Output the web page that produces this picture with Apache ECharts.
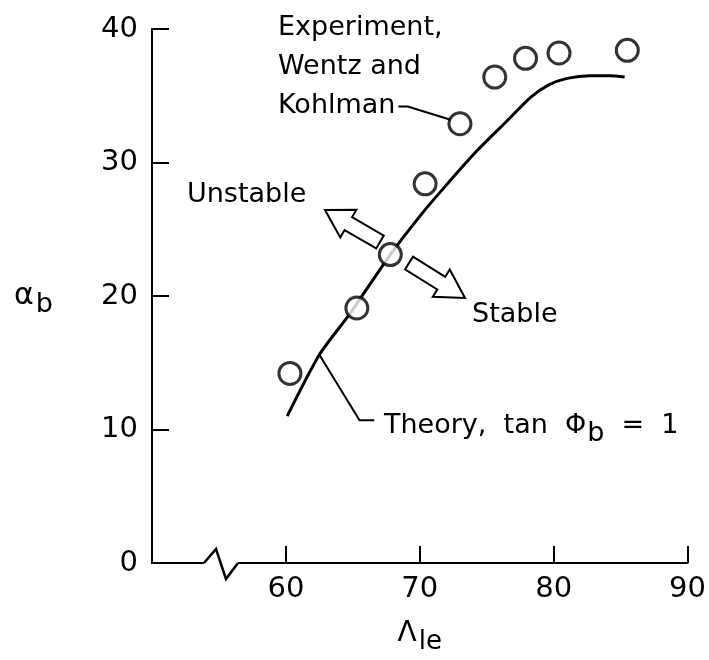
<!DOCTYPE html>
<html>
<head>
<meta charset="utf-8">
<title>Vortex breakdown angle vs sweep</title>
<script src="https://cdn.jsdelivr.net/npm/echarts@6/dist/echarts.min.js"></script>
<style>
  html, body { margin: 0; padding: 0; background: #fff; }
  #chart { width: 709px; height: 660px; }
</style>
</head>
<body>
<div id="chart"></div>
<script>
// leading edge sweep (deg) vs breakdown angle of attack (deg)
var theorySweep = [60.1, 62.5, 64.8, 67.8, 70.1, 71.8, 74.2, 76.4, 78.3, 79.6, 81.0, 82.7, 84.2, 85.3];
var theoryAlpha = [11.0, 15.6, 18.7, 23.1, 26.1, 28.1, 30.8, 33.0, 34.9, 35.8, 36.3, 36.5, 36.5, 36.4];

var expSweep = [60.3, 65.3, 67.8, 70.4, 73.0, 75.6, 77.9, 80.4, 85.5];
var expAlpha = [14.2, 19.1, 23.1, 28.4, 32.9, 36.4, 37.8, 38.2, 38.4];

var xTicks = [60, 70, 80, 90];
var yTicks = [0, 10, 20, 30, 40];

var FONT = 'DejaVu Sans';
var INK = '#000';

function pairs(xs, ys) {
  return xs.map(function (x, i) { return [x, ys[i]]; });
}

var chart = echarts.init(document.getElementById('chart'));

chart.setOption({
  animation: false,
  backgroundColor: '#fff',
  grid: { left: 152, right: 19, top: 29, bottom: 91 },
  xAxis: {
    type: 'value',
    min: 50,
    max: 90,
    interval: 10,
    name: 'Λ{s|le}',
    nameLocation: 'middle',
    nameGap: 50,
    nameTextStyle: {
      color: INK, fontFamily: FONT, fontSize: 28, verticalAlign: 'top',
      rich: { s: { color: INK, fontFamily: FONT, fontSize: 26, padding: [16, 0, 0, 2] } }
    },
    axisLine: { lineStyle: { color: INK, width: 2 } },
    axisTick: { inside: true, length: 17, lineStyle: { color: INK, width: 2 } },
    axisLabel: {
      margin: 12, color: INK, fontFamily: FONT, fontSize: 29,
      formatter: function (v) { return xTicks.indexOf(v) >= 0 ? String(v) : ''; }
    },
    splitLine: { show: false }
  },
  yAxis: {
    type: 'value',
    min: 0,
    max: 40,
    interval: 10,
    name: 'α{s|b}',
    nameLocation: 'middle',
    nameRotate: 0,
    nameGap: 99,
    nameTextStyle: {
      color: INK, fontFamily: FONT, fontSize: 30, align: 'right',
      rich: { s: { color: INK, fontFamily: FONT, fontSize: 27, padding: [18, 0, 0, 2] } }
    },
    axisLine: { show: true, lineStyle: { color: INK, width: 2 } },
    axisTick: { show: true, inside: true, length: 17, lineStyle: { color: INK, width: 2 } },
    axisLabel: {
      margin: 14, color: INK, fontFamily: FONT, fontSize: 29,
      formatter: function (v) { return yTicks.indexOf(v) >= 0 ? String(v) : ''; }
    },
    splitLine: { show: false }
  },
  series: [{
    name: 'Theory',
    type: 'line',
    smooth: 0.25,
    showSymbol: false,
    lineStyle: { color: INK, width: 3 },
    data: pairs(theorySweep, theoryAlpha),
    z: 2
  }, {
    name: 'Experiment',
    type: 'scatter',
    symbol: 'circle',
    symbolSize: 22,
    itemStyle: { color: '#fff', borderColor: INK, borderWidth: 3 },
    data: pairs(expSweep, expAlpha),
    z: 3
  }]
});

// annotations: axis break, labels, leaders, arrows
function px(x, y) { return chart.convertToPixel({ gridIndex: 0 }, [x, y]); }

function blockArrow(tail, tip, shaftW, headW, headL) {
  var dx = tip[0] - tail[0], dy = tip[1] - tail[1];
  var len = Math.sqrt(dx * dx + dy * dy);
  var ux = dx / len, uy = dy / len, nx = -uy, ny = ux;
  var bx = tip[0] - ux * headL, by = tip[1] - uy * headL;
  var s = shaftW / 2, h = headW / 2;
  return [
    [tail[0] + nx * s, tail[1] + ny * s],
    [bx + nx * s, by + ny * s],
    [bx + nx * h, by + ny * h],
    tip,
    [bx - nx * h, by - ny * h],
    [bx - nx * s, by - ny * s],
    [tail[0] - nx * s, tail[1] - ny * s]
  ];
}

var origin = px(50, 0);
var ox = origin[0], oy = origin[1];
var lineStyle = { stroke: INK, lineWidth: 2, fill: null };
var textStyle = function (t, x, y, extra) {
  var st = { text: t, x: x, y: y, fill: INK, fontFamily: FONT, fontSize: 27, verticalAlign: 'middle' };
  for (var k in extra) st[k] = extra[k];
  return { type: 'text', style: st, z: 10 };
};

var leaderExp = [px(68.4, 34.2), px(69.1, 34.2), px(72.3, 33.2)];
var leaderTheory = [px(62.5, 15.6), px(65.5, 10.7), px(66.6, 10.7)];

chart.setOption({
  graphic: [
    { type: 'rect', shape: { x: ox + 52, y: oy - 5, width: 34, height: 10 }, style: { fill: '#fff' }, z: 10 },
    { type: 'polyline', shape: { points: [[ox + 52, oy], [ox + 64, oy - 14], [ox + 74, oy + 16], [ox + 86, oy]] },
      style: { stroke: INK, lineWidth: 2.5, fill: null }, z: 11 },

    textStyle('Experiment,', 278, 28),
    textStyle('Wentz and', 278, 67),
    textStyle('Kohlman', 278, 106),
    { type: 'polyline', shape: { points: leaderExp }, style: lineStyle, z: 10 },

    textStyle('Unstable', 187, 195),
    textStyle('Stable', 472, 315),
    textStyle('Theory,  tan  Φ{s|b}  =  1', 384, 426, {
      rich: { s: { fill: INK, fontFamily: FONT, fontSize: 27, padding: [16, 0, 0, 1] } }
    }),
    { type: 'polyline', shape: { points: leaderTheory }, style: lineStyle, z: 10 },

    { type: 'polygon', shape: { points: blockArrow([380, 242], [325, 210], 15, 32, 27) },
      style: { stroke: INK, lineWidth: 2, fill: '#fff' }, z: 10 },
    { type: 'polygon', shape: { points: blockArrow([409, 263], [465, 298], 15, 32, 28) },
      style: { stroke: INK, lineWidth: 2, fill: '#fff' }, z: 10 }
  ]
});
</script>
</body>
</html>
